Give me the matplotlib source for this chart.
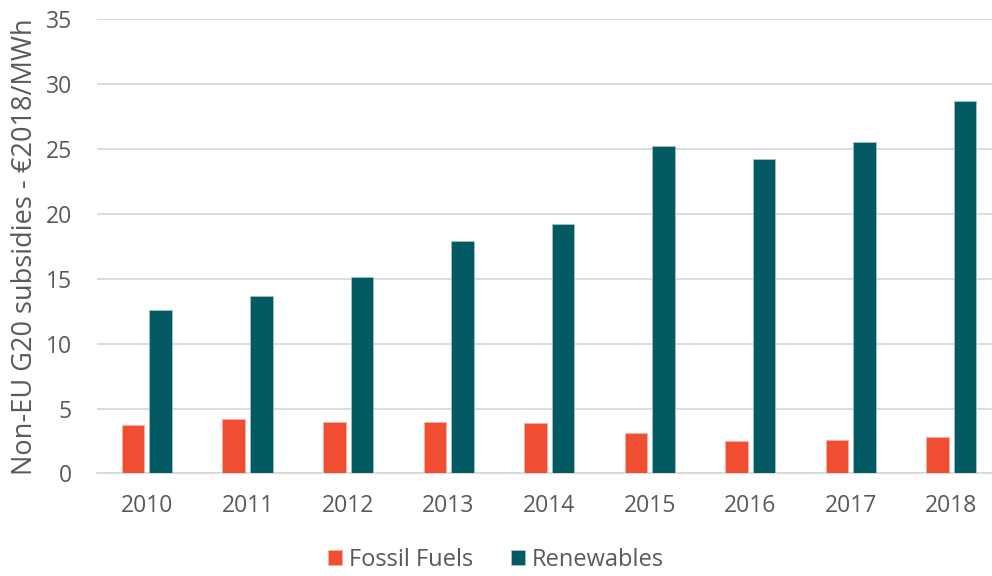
import numpy as np
import matplotlib.pyplot as plt

years = ['2010', '2011', '2012', '2013', '2014', '2015', '2016', '2017', '2018']
fossil = [3.72, 4.18, 3.98, 3.95, 3.92, 3.08, 2.49, 2.54, 2.82]
renewables = [12.6, 13.7, 15.1, 17.9, 19.2, 25.2, 24.2, 25.55, 28.7]

orange = '#F04E32'
teal = '#035A63'
grey = '#595959'

plt.rcParams['font.family'] = ['Open Sans', 'DejaVu Sans']

fig = plt.figure(figsize=(9.92, 5.76), dpi=100)
ax = fig.add_axes([0.0975, 0.178, 0.912, 0.789])

x = np.arange(len(years))
w = 0.224
off = 0.137
ax.bar(x - off, fossil, w, color=orange, edgecolor='#f7b0a3', linewidth=0.6, label='Fossil Fuels', zorder=3)
ax.bar(x + off, renewables, w, color=teal, edgecolor='#9fc3c6', linewidth=0.6, label='Renewables', zorder=3)

ax.set_xlim(-0.5, len(years) - 0.5)
ax.set_ylim(0, 35)
ax.set_yticks(range(0, 36, 5))
ax.set_xticks(x)
ax.set_xticklabels(years)
ax.yaxis.grid(True, color='#D9D9D9', linewidth=1.3, zorder=0)
ax.set_axisbelow(True)
for s in ['top', 'right', 'left']:
    ax.spines[s].set_visible(False)
ax.spines['bottom'].set_color('#D9D9D9')
ax.spines['bottom'].set_linewidth(1.3)
ax.tick_params(axis='both', length=0, labelsize=16.5, colors=grey)
ax.tick_params(axis='x', pad=15)
ax.tick_params(axis='y', pad=18)

ax.set_ylabel('Non-EU G20 subsidies - €2018/MWh', fontsize=19.5, color=grey, labelpad=5)

fig.legend(loc='lower center', bbox_to_anchor=(0.5, -0.03), ncol=2, frameon=False,
           fontsize=17, labelcolor=grey, handlelength=0.6, handleheight=0.6,
           handletextpad=0.3, columnspacing=1.6)

fig.savefig('out.png', dpi=100)
